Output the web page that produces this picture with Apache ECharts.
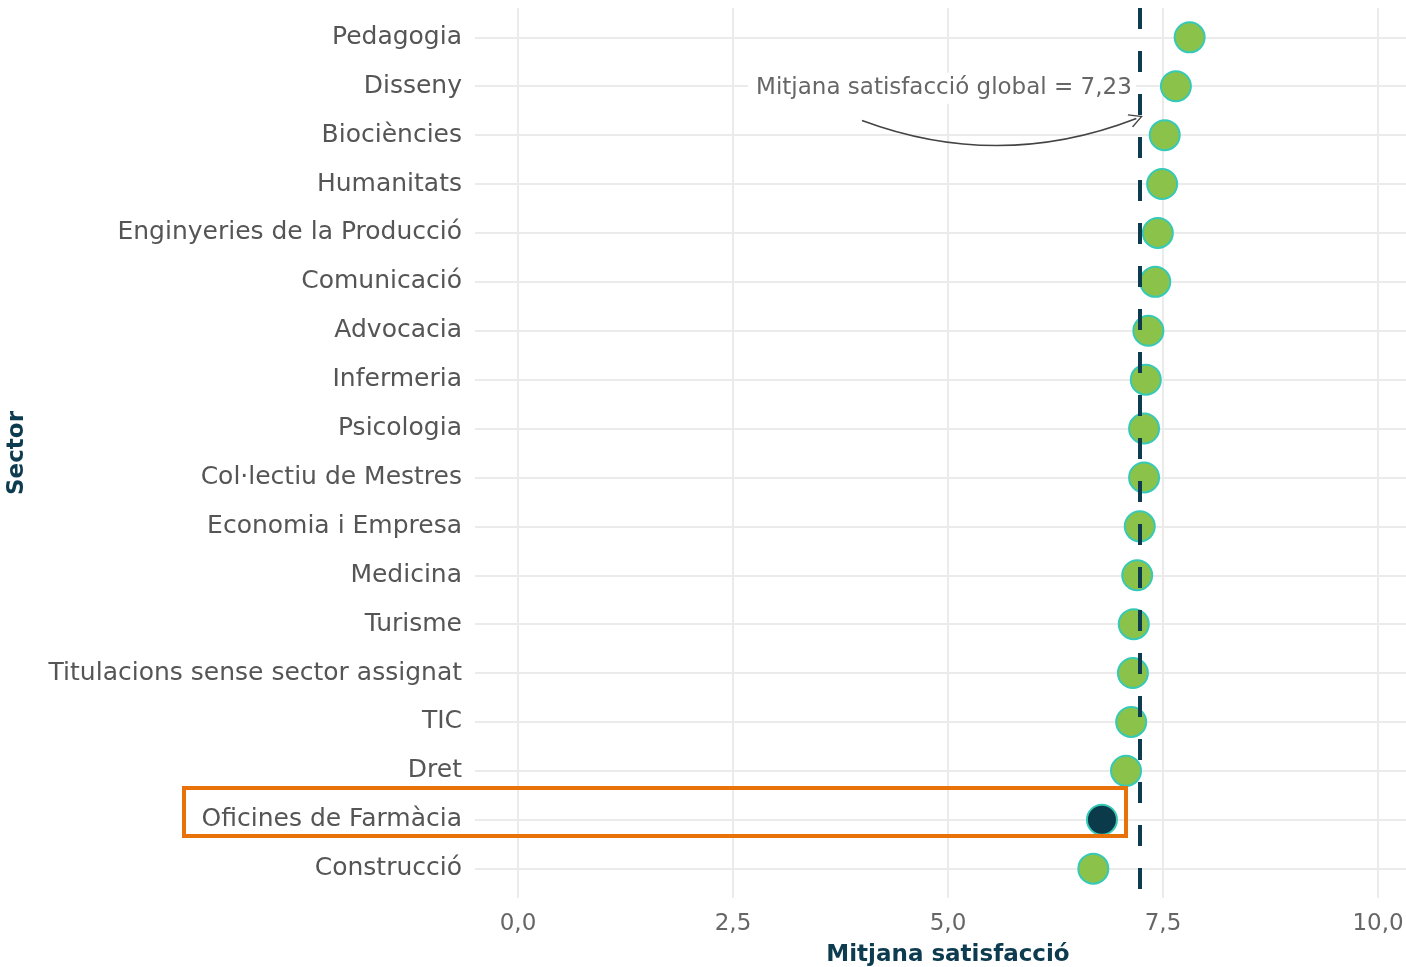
<!DOCTYPE html>
<html>
<head>
<meta charset="utf-8">
<script src="https://cdn.jsdelivr.net/npm/echarts@6/dist/echarts.min.js"></script>
<style>
  html, body { margin: 0; padding: 0; background: #fff; }
  #chart { width: 1406px; height: 967px; }
</style>
</head>
<body>
<div id="chart"></div>
<script>
  // sectors, top to bottom
  var sectors = ['Pedagogia', 'Disseny', 'Biociències', 'Humanitats', 'Enginyeries de la Producció',
    'Comunicació', 'Advocacia', 'Infermeria', 'Psicologia', 'Col·lectiu de Mestres',
    'Economia i Empresa', 'Medicina', 'Turisme', 'Titulacions sense sector assignat', 'TIC',
    'Dret', 'Oficines de Farmàcia', 'Construcció'];
  var satisfaccio = [7.81, 7.65, 7.52, 7.49, 7.44, 7.41, 7.33, 7.30, 7.28, 7.28,
    7.23, 7.20, 7.16, 7.15, 7.13, 7.07, 6.79, 6.69];
  var highlighted = 'Oficines de Farmàcia';
  var mitjanaGlobal = 7.23;
  var xTicks = [0, 2.5, 5, 7.5, 10];

  var rowIdx = sectors.map(function (s, i) { return i; });
  var fmt = function (v) { return v.toFixed(1).replace('.', ','); };

  var chart = echarts.init(document.getElementById('chart'));
  var font = 'DejaVu Sans';

  var points = satisfaccio.map(function (v, i) {
    var hi = sectors[i] === highlighted;
    return {
      value: [v, i],
      itemStyle: { color: hi ? '#0b3a4b' : '#8bc34a' }
    };
  });

  var option = {
    animation: false,
    grid: { left: 475, right: -15, top: 8, bottom: 69, outerBoundsMode: 'none', containLabel: false },
    xAxis: {
      type: 'value',
      min: -0.5,
      max: 10.5,
      name: 'Mitjana satisfacció',
      nameLocation: 'middle',
      nameGap: 46,
      nameTextStyle: { fontFamily: font, fontSize: 23, fontWeight: 'bold', color: '#0d3b4f' },
      axisLine: { show: false },
      axisTick: { show: false, customValues: xTicks },
      axisLabel: {
        customValues: xTicks,
        formatter: fmt,
        fontFamily: font, fontSize: 23, color: '#666', margin: 15
      },
      splitLine: { show: true, lineStyle: { color: '#ebebeb', width: 2 } }
    },
    yAxis: {
      type: 'value',
      inverse: true,
      min: -0.6,
      max: sectors.length - 1 + 0.6,
      name: 'Sector',
      nameLocation: 'middle',
      nameGap: 446,
      nameRotate: 90,
      nameTextStyle: { fontFamily: font, fontSize: 23, fontWeight: 'bold', color: '#0d3b4f' },
      axisLine: { show: false },
      axisTick: { show: false, customValues: rowIdx },
      axisLabel: {
        customValues: rowIdx,
        formatter: function (v) { return sectors[Math.round(v)]; },
        fontFamily: font, fontSize: 25, color: '#555', margin: 13
      },
      splitLine: { show: true, lineStyle: { color: '#ebebeb', width: 2 } }
    },
    series: [{
      type: 'scatter',
      data: points,
      symbolSize: 30,
      itemStyle: { borderColor: '#36c9b6', borderWidth: 2, opacity: 1 },
      z: 2,
      markLine: {
        silent: true,
        z: 5,
        symbol: 'none',
        label: { show: false },
        data: [{
          xAxis: mitjanaGlobal,
          lineStyle: { color: '#0d3b4f', width: 4, type: [21, 22] }
        }]
      },
      markPoint: {
        silent: true,
        symbol: 'circle',
        symbolSize: 0,
        data: [{
          coord: [mitjanaGlobal, 1.04],
          label: {
            show: true,
            position: 'left',
            distance: 4,
            formatter: 'Mitjana satisfacció global = ' + mitjanaGlobal.toFixed(2).replace('.', ','),
            fontFamily: font, fontSize: 23, color: '#666',
            backgroundColor: '#fff',
            padding: [4, 4, 4, 8]
          }
        }]
      }
    }, {
      // curved arrow pointing at the global mean line
      type: 'lines',
      coordinateSystem: 'cartesian2d',
      silent: true,
      z: 6,
      symbol: ['none', 'path://M0,14 L10,0 L20,14 L18.5,15 L10,3 L1.5,15 Z'],
      symbolSize: [16, 14],
      lineStyle: { color: '#444', width: 1.6, curveness: -0.19, opacity: 1 },
      data: [{ coords: [[4.0, 1.7], [7.19, 1.66]] }]
    }]
  };
  chart.setOption(option);

  // orange highlight box around the highlighted row
  var hIdx = sectors.indexOf(highlighted);
  var boxTop = chart.convertToPixel({ gridIndex: 0 }, [0, hIdx - 0.65]);
  var boxBot = chart.convertToPixel({ gridIndex: 0 }, [0, hIdx + 0.33]);
  var boxRight = chart.convertToPixel({ gridIndex: 0 }, [satisfaccio[hIdx] + 0.28, hIdx]);
  chart.setOption({
    graphic: [{
      type: 'rect',
      z: 10,
      shape: { x: 184, y: boxTop[1], width: boxRight[0] - 184, height: boxBot[1] - boxTop[1] },
      style: { fill: 'none', stroke: '#e8710a', lineWidth: 4 }
    }]
  });
</script>
</body>
</html>
